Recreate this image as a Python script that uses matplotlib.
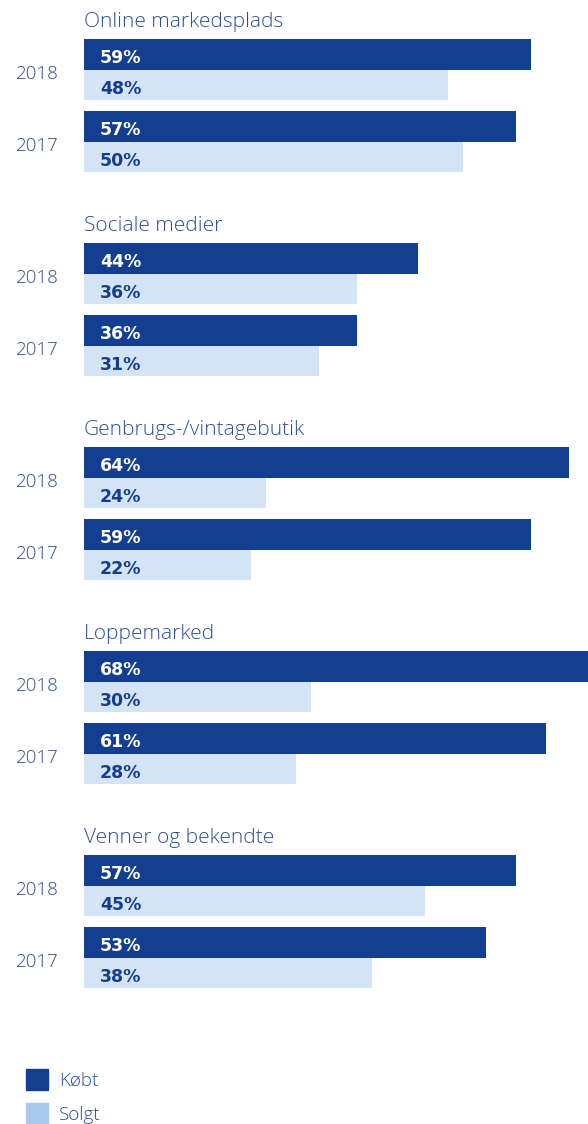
import matplotlib.pyplot as plt

plt.rcParams['font.family'] = ['Open Sans', 'DejaVu Sans']

categories = ['Online markedsplads', 'Sociale medier', 'Genbrugs-/vintagebutik',
              'Loppemarked', 'Venner og bekendte']
years = ['2018', '2017']
# values per category: [2018, 2017]
koebt = [[59, 57], [44, 36], [64, 59], [68, 61], [57, 53]]
solgt = [[48, 50], [36, 31], [24, 22], [30, 28], [45, 38]]
legend_labels = ['Købt', 'Solgt']

dark = '#143e8f'
light = '#d5e4f5'
light_legend = '#a9c9eb'
txt = '#2e4f96'

W, H = 588, 1124
fig = plt.figure(figsize=(W / 100, H / 100), dpi=100)

# bars start at pixel 84, 7.58 px per percent
px = 7.58
ax = fig.add_axes([84 / W, 0, 1 - 84 / W, 1])
ax.set_xlim(0, (W - 84) / px)
ax.set_ylim(H, 0)
ax.axis('off')

pct_font = dict(family=['DejaVu Sans'], fontsize=12.5, fontweight='bold')

group_step = 204
bar_h = 30.5
for g, cat in enumerate(categories):
    top = 39 + g * group_step
    ax.text(0, top - 12.3, cat, fontsize=15, color=txt, fontweight='light',
            va='baseline', ha='left')
    for j, yr in enumerate(years):
        y0 = top + j * 72
        yk = y0 + bar_h / 2
        ys = y0 + bar_h + bar_h / 2
        ax.barh(yk, koebt[g][j], height=bar_h, color=dark, left=0)
        ax.barh(ys, solgt[g][j], height=bar_h, color=light, left=0)
        ax.text(16 / px, y0 + 24, f'{koebt[g][j]}%', color='white',
                va='baseline', ha='left', **pct_font)
        ax.text(16 / px, y0 + bar_h + 24, f'{solgt[g][j]}%', color=dark,
                va='baseline', ha='left', **pct_font)
        fig.text(37 / W, 1 - (y0 + bar_h + 9.3) / H, yr, fontsize=13.5, color=txt,
                 fontweight='light', ha='center', va='baseline')

# legend (second entry sits at the bottom edge, nudged up to stay visible)
for i, (lab, c) in enumerate(zip(legend_labels, [dark, light_legend])):
    y_top = 1069 + i * 34
    fig.patches.append(plt.Rectangle((26 / W, 1 - (y_top + 21) / H), 22 / W, 21 / H,
                                     color=c, transform=fig.transFigure, figure=fig))
    fig.text(59 / W, 1 - (y_top + 17) / H, lab, fontsize=13.5, color=txt,
             fontweight='light', ha='left', va='baseline')

fig.savefig('out.png', dpi=100)
